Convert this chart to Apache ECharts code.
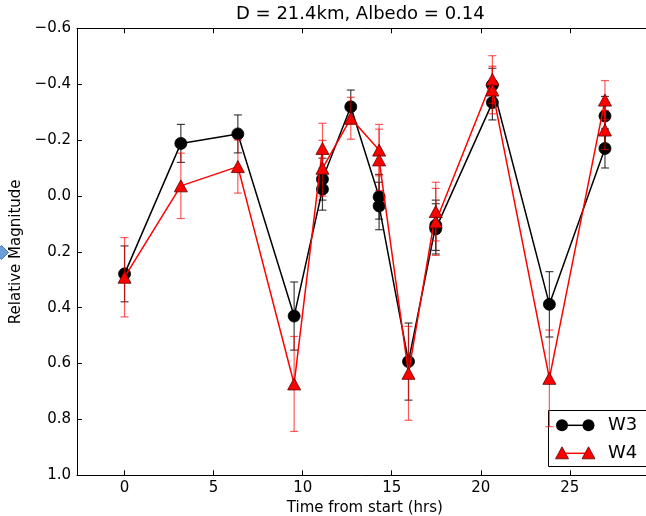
<!DOCTYPE html>
<html>
<head>
<meta charset="utf-8">
<script src="https://cdn.jsdelivr.net/npm/echarts@6/dist/echarts.min.js"></script>
<style>
html,body{margin:0;padding:0;background:#fff;}
#chart{width:646px;height:516px;}
</style>
</head>
<body>
<div id="chart"></div>
<script>
// ---- data ----
const timeHrs = [0, 3.16, 6.36, 9.52, 11.11, 11.11, 12.7, 14.29, 14.29, 15.94, 17.47, 17.47, 20.65, 20.65, 23.85, 26.97, 26.97];
const w3Mag   = [0.279, -0.188, -0.222, 0.43, -0.024, -0.06, -0.319, 0.003, 0.036, 0.593, 0.105, 0.118, -0.334, -0.397, 0.388, -0.17, -0.286];
const w3Err   = [0.10, 0.068, 0.068, 0.122, 0.075, 0.075, 0.06, 0.08, 0.085, 0.138, 0.09, 0.09, 0.062, 0.06, 0.117, 0.07, 0.07];
const w4Mag   = [0.291, -0.036, -0.105, 0.673, -0.17, -0.099, -0.278, -0.164, -0.129, 0.635, 0.056, 0.093, -0.417, -0.379, 0.653, -0.343, -0.236];
const w4Err   = [0.142, 0.117, 0.095, 0.17, 0.09, 0.10, 0.075, 0.092, 0.11, 0.168, 0.105, 0.12, 0.085, 0.085, 0.173, 0.07, 0.07];
const xTicks  = [0, 5, 10, 15, 20, 25];
const yTicks  = [-0.6, -0.4, -0.2, 0.0, 0.2, 0.4, 0.6, 0.8, 1.0];
const seriesNames = ['W3', 'W4'];
const titleText = 'D = 21.4km, Albedo = 0.14';
const xName = 'Time from start (hrs)';
const yName = 'Relative Magnitude';

// ---- chart ----
const FONT = 'DejaVu Sans';
const chart = echarts.init(document.getElementById('chart'), null, {renderer: 'canvas'});

function fmtY(v) {
  const r = Math.round(v * 10) / 10;
  return (r < 0 ? '\u2212' : '') + Math.abs(r).toFixed(1);
}

function errBarSeries(name, mags, errs, color, z) {
  return {
    type: 'custom',
    name: name + ' err',
    xAxisIndex: 0, yAxisIndex: 0,
    z: z,
    silent: true,
    data: timeHrs.map((t, i) => [t, mags[i], errs[i]]),
    renderItem: function (params, api) {
      const x = api.value(0), y = api.value(1), e = api.value(2);
      const a = api.coord([x, y - e]);
      const b = api.coord([x, y + e]);
      const h = 4;
      const st = {stroke: color, lineWidth: 1.2};
      return {
        type: 'group',
        children: [
          {type: 'line', shape: {x1: a[0], y1: a[1], x2: b[0], y2: b[1]}, style: st},
          {type: 'line', shape: {x1: a[0] - h, y1: a[1], x2: a[0] + h, y2: a[1]}, style: st},
          {type: 'line', shape: {x1: b[0] - h, y1: b[1], x2: b[0] + h, y2: b[1]}, style: st}
        ]
      };
    }
  };
}

const gridLeft = 77, gridTop = 28.3, gridBottom = 40.7, gridRight = -6.7;

const option = {
  backgroundColor: '#ffffff',
  animation: false,
  title: {
    text: titleText,
    left: 236, top: 5, padding: 0,
    textStyle: {fontFamily: FONT, fontSize: 18, fontWeight: 'normal', color: '#000'}
  },
  grid: {left: gridLeft, top: gridTop, bottom: gridBottom, right: gridRight, containLabel: false, outerBoundsMode: 'none'},
  xAxis: [{
    type: 'value',
    min: -2.67, max: 29.65,
    position: 'bottom',
    name: xName,
    nameLocation: 'middle',
    nameGap: 21,
    nameTextStyle: {fontFamily: FONT, fontSize: 15, color: '#000'},
    axisLine: {show: true, onZero: false, lineStyle: {color: '#000', width: 1}},
    axisTick: {show: true, inside: true, length: 5, customValues: xTicks, lineStyle: {color: '#000'}},
    axisLabel: {show: true, margin: 5, customValues: xTicks, fontFamily: FONT, fontSize: 15, color: '#000',
      formatter: v => String(v)},
    splitLine: {show: false}
  }, {
    type: 'value',
    min: -2.67, max: 29.65,
    position: 'top',
    axisLine: {show: true, onZero: false, lineStyle: {color: '#000', width: 1}},
    axisTick: {show: true, inside: true, length: 5, customValues: xTicks, lineStyle: {color: '#000'}},
    axisLabel: {show: false},
    splitLine: {show: false}
  }],
  yAxis: [{
    type: 'value',
    inverse: true,
    min: yTicks[0], max: yTicks[yTicks.length - 1], interval: 0.2,
    name: yName,
    nameLocation: 'middle',
    nameGap: 47,
    nameRotate: 90,
    nameTextStyle: {fontFamily: FONT, fontSize: 15, color: '#000'},
    axisLine: {show: true, onZero: false, lineStyle: {color: '#000', width: 1}},
    axisTick: {show: true, inside: true, length: 5, lineStyle: {color: '#000'}},
    axisLabel: {show: true, margin: 6, fontFamily: FONT, fontSize: 15, color: '#000', formatter: fmtY},
    splitLine: {show: false}
  }],
  series: [
    errBarSeries('W3', w3Mag, w3Err, 'rgba(0,0,0,0.75)', 2),
    {
      type: 'line', name: seriesNames[0], z: 3,
      data: timeHrs.map((t, i) => [t, w3Mag[i]]),
      symbol: 'circle', symbolSize: 12,
      showAllSymbol: true,
      lineStyle: {color: '#000', width: 1.5},
      itemStyle: {color: '#000', borderColor: '#000', borderWidth: 0.8},
      emphasis: {disabled: true}
    },
    errBarSeries('W4', w4Mag, w4Err, 'rgba(255,0,0,0.65)', 4),
    {
      type: 'line', name: seriesNames[1], z: 5,
      data: timeHrs.map((t, i) => [t, w4Mag[i]]),
      symbol: 'triangle', symbolSize: [13, 12],
      showAllSymbol: true,
      lineStyle: {color: '#ff0000', width: 1.5},
      itemStyle: {color: '#ff0000', borderColor: '#5a0000', borderWidth: 0.8},
      emphasis: {disabled: true}
    }
  ],
  graphic: [
    // small blue marker artifact at left edge
    {type: 'polygon', left: -6, top: 245, z: 1,
      shape: {points: [[0, 0], [7, 7], [0, 14], [-7, 7]]},
      style: {fill: '#6a9fd8', stroke: '#4a7fbf', lineWidth: 1}},
    // legend
    {type: 'group', z: 100, children: [
      {type: 'rect', shape: {x: 548.5, y: 410.5, width: 150, height: 56},
        style: {fill: '#fff', stroke: '#000', lineWidth: 1}},
      {type: 'line', shape: {x1: 562, y1: 425.3, x2: 588.5, y2: 425.3}, style: {stroke: '#000', lineWidth: 1.5}},
      {type: 'circle', shape: {cx: 562, cy: 425.3, r: 6}, style: {fill: '#000'}},
      {type: 'circle', shape: {cx: 588.5, cy: 425.3, r: 6}, style: {fill: '#000'}},
      {type: 'text', x: 608, y: 425.3, style: {text: seriesNames[0], fontFamily: FONT, fontSize: 18, fill: '#000', verticalAlign: 'middle', align: 'left'}},
      {type: 'line', shape: {x1: 562, y1: 453.3, x2: 588.5, y2: 453.3}, style: {stroke: '#ff0000', lineWidth: 1.5}},
      {type: 'polygon', shape: {points: [[562, 446.8], [568.5, 458.8], [555.5, 458.8]]}, style: {fill: '#ff0000', stroke: '#5a0000', lineWidth: 0.8}},
      {type: 'polygon', shape: {points: [[588.5, 446.8], [595, 458.8], [582, 458.8]]}, style: {fill: '#ff0000', stroke: '#5a0000', lineWidth: 0.8}},
      {type: 'text', x: 608, y: 453.3, style: {text: seriesNames[1], fontFamily: FONT, fontSize: 18, fill: '#000', verticalAlign: 'middle', align: 'left'}}
    ]}
  ]
};
chart.setOption(option);
</script>
</body>
</html>
